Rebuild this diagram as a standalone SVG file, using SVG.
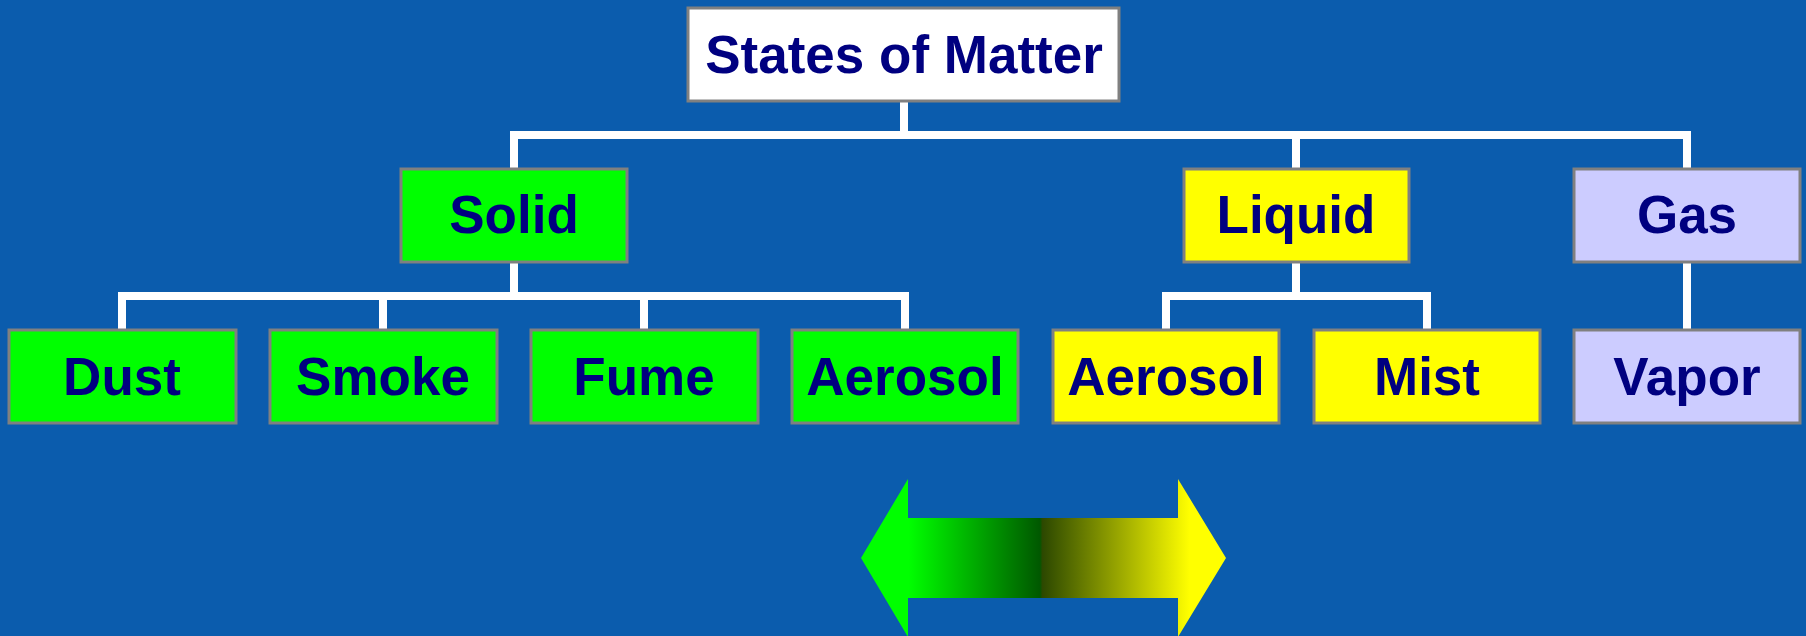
<svg xmlns="http://www.w3.org/2000/svg" width="1806" height="636" viewBox="0 0 1806 636">
<defs>
<style>
.box{stroke:#808080;stroke-width:3}
.lbl{font-family:"Liberation Sans",Arial,sans-serif;font-weight:bold;font-size:53px;fill:#000080;text-anchor:middle}
.conn{stroke:#ffffff;stroke-width:8;fill:none}
</style>
<linearGradient id="arrowGrad" gradientUnits="userSpaceOnUse" x1="861" y1="0" x2="1226" y2="0">
<stop offset="0" stop-color="#00ff00"/>
<stop offset="0.13" stop-color="#00ff00"/>
<stop offset="0.49" stop-color="#005800"/>
<stop offset="0.497" stop-color="#2c4800"/>
<stop offset="0.9" stop-color="#ffff00"/>
<stop offset="1" stop-color="#ffff00"/>
</linearGradient>
</defs>
<rect x="0" y="0" width="1806" height="636" fill="#0b5cad"/>
<g id="connectors">
<path class="conn" d="M904,101 V135 M514,135 H1687 M514,131 V169 M1296,131 V169 M1687,131 V169"/>
<path class="conn" d="M514,262 V296 M122,296 H905 M122,292 V330 M383,292 V330 M644,292 V330 M905,292 V330"/>
<path class="conn" d="M1296,262 V296 M1166,296 H1427 M1166,292 V330 M1427,292 V330"/>
<path class="conn" d="M1687,262 V330"/>
</g>
<g id="states">
<rect class="box" x="688" y="8" width="431" height="93" fill="#ffffff"/>
<text class="lbl" x="904" y="73">States of Matter</text>
</g>
<g id="solid">
<rect class="box" x="401" y="169" width="226" height="93" fill="#00ff00"/>
<text class="lbl" x="514" y="233">Solid</text>
</g>
<g id="liquid">
<rect class="box" x="1184" y="169" width="225" height="93" fill="#ffff00"/>
<text class="lbl" x="1296" y="233">Liquid</text>
</g>
<g id="gas">
<rect class="box" x="1574" y="169" width="226" height="93" fill="#ccccff"/>
<text class="lbl" x="1687" y="233">Gas</text>
</g>
<g id="dust">
<rect class="box" x="9" y="330" width="227" height="93" fill="#00ff00"/>
<text class="lbl" x="122" y="395">Dust</text>
</g>
<g id="smoke">
<rect class="box" x="270" y="330" width="227" height="93" fill="#00ff00"/>
<text class="lbl" x="383" y="395">Smoke</text>
</g>
<g id="fume">
<rect class="box" x="531" y="330" width="227" height="93" fill="#00ff00"/>
<text class="lbl" x="644" y="395">Fume</text>
</g>
<g id="aerosol-solid">
<rect class="box" x="792" y="330" width="226" height="93" fill="#00ff00"/>
<text class="lbl" x="905" y="395">Aerosol</text>
</g>
<g id="aerosol-liquid">
<rect class="box" x="1053" y="330" width="226" height="93" fill="#ffff00"/>
<text class="lbl" x="1166" y="395">Aerosol</text>
</g>
<g id="mist">
<rect class="box" x="1314" y="330" width="226" height="93" fill="#ffff00"/>
<text class="lbl" x="1427" y="395">Mist</text>
</g>
<g id="vapor">
<rect class="box" x="1574" y="330" width="226" height="93" fill="#ccccff"/>
<text class="lbl" x="1687" y="395">Vapor</text>
</g>
<g id="arrow">
<polygon points="861,558 908,479 908,518 1178,518 1178,479 1226,558 1178,637 1178,598 908,598 908,637" fill="url(#arrowGrad)"/>
</g>
</svg>
